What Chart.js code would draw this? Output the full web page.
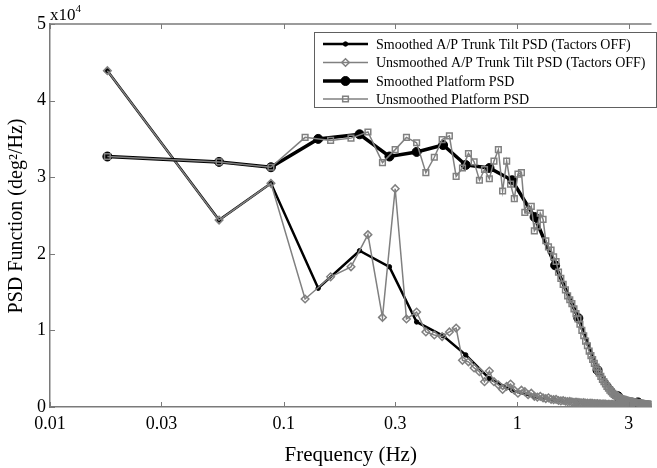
<!DOCTYPE html>
<html>
<head>
<meta charset="utf-8">
<script src="https://cdn.jsdelivr.net/npm/chart.js@4.4.1/dist/chart.umd.min.js"></script>
<style>
  body { margin: 0; background: #fff; }
  canvas { display: block; }
</style>
</head>
<body>
<canvas id="grafik" width="657" height="468"></canvas>
<script>
// frekuensi data tidak dihaluskan (Hz)
const freqRaw = [
  0.0176, 0.0529, 0.0882, 0.1235, 0.1588, 0.1941, 0.2294, 0.2647, 0.3000, 0.3353,
  0.3706, 0.4059, 0.4412, 0.4765, 0.5118, 0.5470, 0.5823, 0.6176, 0.6529, 0.6882,
  0.7235, 0.7588, 0.7941, 0.8294, 0.8647, 0.9000, 0.9353, 0.9705, 1.0058, 1.0411,
  1.0764, 1.1117, 1.1470, 1.1823, 1.2176, 1.2529, 1.2882, 1.3234, 1.3587, 1.3940,
  1.4293, 1.4646, 1.4999, 1.5352, 1.5705, 1.6058, 1.6411, 1.6763, 1.7116, 1.7469,
  1.7822, 1.8175, 1.8528, 1.8881, 1.9234, 1.9587, 1.9940, 2.0293, 2.0645, 2.0998,
  2.1351, 2.1704, 2.2057, 2.2410, 2.2763, 2.3116, 2.3469, 2.3822, 2.4174, 2.4527,
  2.4880, 2.5233, 2.5586, 2.5939, 2.6292, 2.6645, 2.6998, 2.7351, 2.7703, 2.8056,
  2.8409, 2.8762, 2.9115, 2.9468, 2.9821, 3.0174, 3.0527, 3.0880, 3.1232, 3.1585,
  3.1938, 3.2291, 3.2644, 3.2997, 3.3350, 3.3703, 3.4056, 3.4409, 3.4761, 3.5114,
  3.5467, 3.5820, 3.6173, 3.6526, 3.6879
]

// PSD trunk tilt tidak dihaluskan (x10^4)
const trunkRaw = [
  4.39, 2.44, 2.92, 1.41, 1.70, 1.83, 2.25, 1.17, 2.85, 1.15,
  1.24, 0.98, 0.94, 0.92, 0.98, 1.03, 0.61, 0.59, 0.51, 0.46,
  0.33, 0.47, 0.33, 0.29, 0.23, 0.27, 0.30, 0.22, 0.18, 0.22,
  0.20, 0.16, 0.18, 0.14, 0.13, 0.14, 0.12, 0.11, 0.12, 0.10,
  0.095, 0.10, 0.085, 0.08, 0.085, 0.075, 0.07, 0.072, 0.066, 0.062,
  0.065, 0.06, 0.057, 0.055, 0.058, 0.052, 0.05, 0.048, 0.05, 0.046,
  0.045, 0.043, 0.044, 0.041, 0.04, 0.039, 0.04, 0.037, 0.036, 0.035,
  0.036, 0.034, 0.033, 0.032, 0.033, 0.031, 0.03, 0.03, 0.029, 0.028,
  0.029, 0.027, 0.026, 0.026, 0.025, 0.025, 0.024, 0.024, 0.023, 0.023,
  0.022, 0.022, 0.021, 0.021, 0.02, 0.02, 0.02, 0.019, 0.019, 0.018,
  0.018, 0.018, 0.017, 0.017, 0.016
]

// PSD platform tidak dihaluskan (x10^4)
const platformRaw = [
  3.27, 3.20, 3.13, 3.52, 3.48, 3.51, 3.59, 3.19, 3.36, 3.52,
  3.45, 3.06, 3.26, 3.49, 3.54, 3.01, 3.12, 3.31, 3.20, 2.96,
  3.10, 2.98, 3.21, 3.36, 2.82, 3.21, 2.91, 2.72, 3.04, 3.06,
  2.54, 2.57, 2.62, 2.30, 2.36, 2.53, 2.45, 2.17, 2.09, 2.05,
  1.96, 1.90, 1.76, 1.68, 1.60, 1.53, 1.45, 1.40, 1.35, 1.28,
  1.22, 1.15, 1.08, 1.00, 0.93, 0.86, 0.80, 0.73, 0.67, 0.62,
  0.57, 0.52, 0.48, 0.44, 0.40, 0.36, 0.33, 0.30, 0.27, 0.245,
  0.22, 0.20, 0.18, 0.165, 0.15, 0.14, 0.13, 0.12, 0.11, 0.105,
  0.10, 0.095, 0.09, 0.085, 0.082, 0.08, 0.076, 0.072, 0.068, 0.064,
  0.06, 0.058, 0.055, 0.053, 0.051, 0.05, 0.048, 0.046, 0.044, 0.042,
  0.04, 0.039, 0.037, 0.036, 0.035
]

// frekuensi data dihaluskan (Hz)
const freqSmooth = [0.0176, 0.0529, 0.0882, 0.1405, 0.2112, 0.2835, 0.3707, 0.481, 0.601, 0.760, 0.949, 1.185, 1.451, 1.824, 2.204, 2.70, 3.28]
const trunkSmooth = [4.39, 2.44, 2.92, 1.55, 2.04, 1.83, 1.11, 0.93, 0.68, 0.37, 0.22, 0.13, 0.09, 0.06, 0.045, 0.03, 0.022]
const platformSmooth = [3.27, 3.20, 3.13, 3.50, 3.56, 3.27, 3.33, 3.42, 3.16, 3.12, 2.96, 2.48, 1.85, 1.16, 0.48, 0.14, 0.06]

// label sumbu
const xTicks = [0.01, 0.03, 0.1, 0.3, 1, 3]
const xTickLabels = ['0.01', '0.03', '0.1', '0.3', '1', '3']
const yTicks = [0, 1, 2, 3, 4, 5]
const legendLabels = [
  'Smoothed A/P Trunk Tilt PSD (Tactors OFF)',
  'Unsmoothed A/P Trunk Tilt PSD (Tactors OFF)',
  'Smoothed Platform PSD',
  'Unsmoothed Platform PSD'
]

const serif = "'Liberation Serif', 'Times New Roman', serif"
const abu = '#808080'
const garis = '#7a7a7a'

const pasangkan = (xs, ys) => xs.map((x, i) => ({ x: x, y: ys[i] }))

// gambar judul, tick ke dalam, dan legenda
const hiasan = {
  id: 'hiasan',
  afterDraw(chart) {
    const c = chart.ctx
    const a = chart.chartArea
    const sx = chart.scales.x
    const sy = chart.scales.y
    c.save()
    c.strokeStyle = garis
    c.lineWidth = 1.5
    // garis atas
    c.beginPath()
    c.moveTo(a.left, a.top)
    c.lineTo(a.right, a.top)
    c.stroke()
    // tick ke dalam
    c.lineWidth = 1
    c.beginPath()
    xTicks.forEach(v => {
      const px = Math.round(sx.getPixelForValue(v)) + 0.5
      c.moveTo(px, a.bottom); c.lineTo(px, a.bottom - 5)
      c.moveTo(px, a.top); c.lineTo(px, a.top + 5)
    })
    yTicks.forEach(v => {
      const py = Math.round(sy.getPixelForValue(v)) + 0.5
      c.moveTo(a.left, py); c.lineTo(a.left + 5, py)
    })
    c.stroke()

    // pengali x10^4
    c.fillStyle = '#000'
    c.textBaseline = 'alphabetic'
    c.textAlign = 'left'
    c.font = '17px ' + serif
    c.fillText('x10', a.left, 20)
    const w = c.measureText('x10').width
    c.font = '11px ' + serif
    c.fillText('4', a.left + w, 12)

    // judul sumbu
    c.font = '21px ' + serif
    c.textAlign = 'center'
    c.textBaseline = 'middle'
    c.fillText('Frequency (Hz)', (a.left + a.right) / 2, 455)
    c.save()
    c.translate(17, 216)
    c.rotate(-Math.PI / 2)
    c.font = '20px ' + serif
    c.fillText('PSD Function (deg\u00B2/Hz)', 0, 0)
    c.restore()

    // legenda
    const lx = 314, ly = 32, lw = 342, lh = 75
    c.fillStyle = '#fff'
    c.fillRect(lx, ly, lw, lh)
    c.strokeStyle = '#606060'
    c.lineWidth = 1
    c.strokeRect(lx + 0.5, ly + 0.5, lw, lh)
    const baris = [44, 62.5, 81, 99]
    chart.data.datasets.forEach((ds, i) => {
      const yy = baris[legendLabels.indexOf(ds.label)]
      c.strokeStyle = ds.borderColor
      c.lineWidth = ds.borderWidth
      c.beginPath()
      c.moveTo(323, yy)
      c.lineTo(368, yy)
      c.stroke()
      c.fillStyle = ds.pointBackgroundColor
      c.strokeStyle = ds.pointBorderColor
      c.lineWidth = ds.pointBorderWidth
      Chart.helpers.drawPoint(c, { pointStyle: ds.pointStyle, radius: ds.pointRadius, rotation: 0, borderWidth: ds.pointBorderWidth }, 345.5, yy)
      c.fillStyle = '#000'
      c.textAlign = 'left'
      c.textBaseline = 'middle'
      c.font = '14px ' + serif
      c.fillText(ds.label, 376, yy + 1)
    })
    c.restore()
  }
}

const ctx = document.getElementById('grafik').getContext('2d')
const grafik = new Chart(ctx, {
  type: 'scatter',
  data: {
    datasets: [{
      label: legendLabels[0],
      data: pasangkan(freqSmooth, trunkSmooth),
      showLine: true,
      borderColor: '#000',
      borderWidth: 2.5,
      pointStyle: 'circle',
      pointRadius: 2.2,
      pointBackgroundColor: '#000',
      pointBorderColor: '#000',
      pointBorderWidth: 1,
      order: 3
    }, {
      label: legendLabels[1],
      data: pasangkan(freqRaw, trunkRaw),
      showLine: true,
      borderColor: abu,
      borderWidth: 1.5,
      pointStyle: 'rectRot',
      pointRadius: 3.8,
      pointBackgroundColor: 'rgba(255,255,255,0)',
      pointBorderColor: abu,
      pointBorderWidth: 1.5,
      order: 2
    }, {
      label: legendLabels[2],
      data: pasangkan(freqSmooth, platformSmooth),
      showLine: true,
      borderColor: '#000',
      borderWidth: 3.5,
      pointStyle: 'circle',
      pointRadius: 4.5,
      pointBackgroundColor: '#000',
      pointBorderColor: '#000',
      pointBorderWidth: 1,
      order: 1
    }, {
      label: legendLabels[3],
      data: pasangkan(freqRaw, platformRaw),
      showLine: true,
      borderColor: abu,
      borderWidth: 1.5,
      pointStyle: 'rect',
      pointRadius: 4,
      pointBackgroundColor: 'rgba(255,255,255,0)',
      pointBorderColor: abu,
      pointBorderWidth: 1.5,
      order: 0
    }]
  },
  options: {
    responsive: false,
    animation: false,
    layout: { padding: { top: 24, right: 0, left: 0, bottom: 0 } },
    plugins: {
      legend: { display: false },
      tooltip: { enabled: false }
    },
    scales: {
      x: {
        type: 'logarithmic',
        min: 0.01,
        max: 3.75,
        afterBuildTicks: axis => { axis.ticks = xTicks.map(v => ({ value: v })) },
        afterFit: axis => { axis.height = 61 },
        ticks: {
          autoSkip: false,
          maxRotation: 0,
          padding: 6,
          color: '#000',
          font: { family: serif, size: 18 },
          callback: (v, i) => xTickLabels[i]
        },
        grid: { display: false, drawTicks: false },
        border: { color: garis, width: 1.5 }
      },
      y: {
        min: 0,
        max: 5,
        afterBuildTicks: axis => { axis.ticks = yTicks.map(v => ({ value: v })) },
        afterFit: axis => { axis.width = 50 },
        ticks: {
          padding: 4,
          color: '#000',
          font: { family: serif, size: 18 },
          callback: v => String(v)
        },
        grid: { display: false, drawTicks: false },
        border: { color: garis, width: 1.5 }
      }
    }
  },
  plugins: [hiasan]
})
</script>
</body>
</html>
